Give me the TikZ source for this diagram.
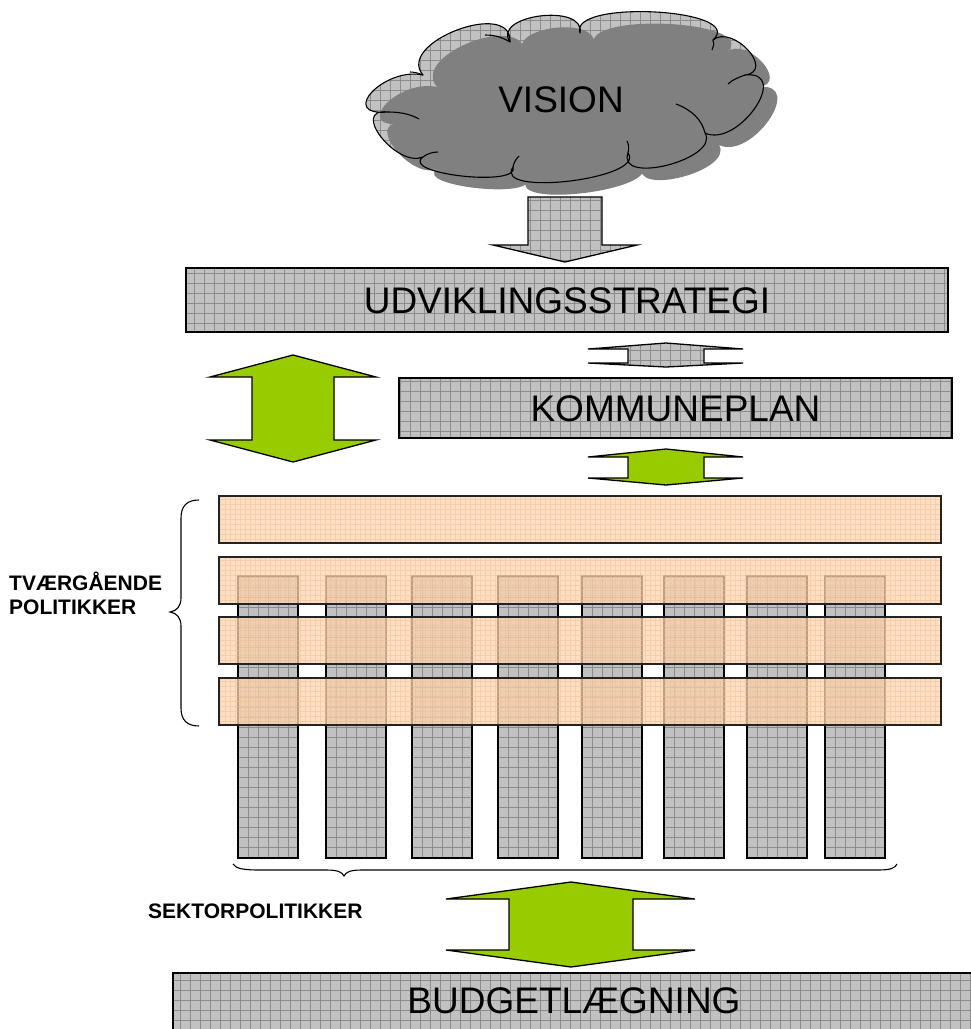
\documentclass[tikz,border=0pt]{standalone}
\usepackage{fontspec}
\setmainfont{Liberation Sans}
\newcommand\BigLabelFont{\fontsize{37}{44}\selectfont}
\newcommand\SmallLabelFont{\fontsize{21}{24}\selectfont\bfseries}
\definecolor{boxgray}{RGB}{193,193,193}
\definecolor{gridgray}{RGB}{140,140,140}
\definecolor{shadowgray}{RGB}{128,128,128}
\definecolor{limegreen}{RGB}{153,204,0}
\definecolor{peach}{RGB}{252,212,176}
\definecolor{peachline}{RGB}{244,186,140}
\definecolor{edgedark}{RGB}{35,35,35}
\tikzset{
  hatchgray/.style={fill=boxgray, path picture={\draw[gridgray, line width=0.6pt, step=10pt] (path picture bounding box.south west) grid (path picture bounding box.north east);}},
  graybox/.style={hatchgray, draw=black, line width=1.3pt, inner sep=0pt, outer sep=0pt, text height=26.5pt, text depth=0pt, font=\BigLabelFont},
  colbox/.style={hatchgray, draw=black, line width=1.3pt, inner sep=0pt, outer sep=0pt, minimum width=60pt, minimum height=282pt},
  peachbox/.style={fill=peach, fill opacity=0.75, draw=edgedark, draw opacity=1, line width=1.3pt, inner sep=0pt, outer sep=0pt, minimum width=722pt, minimum height=47pt,
    path picture={\draw[peachline, line width=0.35pt, step=5pt, draw opacity=0.5] (path picture bounding box.south west) grid (path picture bounding box.north east);}},
  greenarrow/.style={fill=limegreen, draw=black, line width=1.3pt, line join=miter},
  grayarrow/.style={hatchgray, draw=black, line width=1.3pt, line join=miter},
  bigtext/.style={font=\BigLabelFont, inner sep=0pt, text height=26.5pt, text depth=0pt},
  sidelabel/.style={font=\SmallLabelFont, inner sep=0pt, align=left},
  bracestroke/.style={draw=black, line width=1.1pt},
  cloudline/.style={draw=black, line width=1.1pt}
}
\newcommand\CloudShape[1]{%
  \path[#1] (388,112) .. controls (337.2,116.5) and (384.4,66.5) .. (423,75)
    .. controls (395.1,42.8) and (512.5,-1.8) .. (510,42)
    .. controls (491,14.9) and (585.6,2.7) .. (580,33)
    .. controls (568,-0.9) and (747.6,8.5) .. (713,40)
    .. controls (732.7,23.9) and (775.9,71.1) .. (745,75)
    .. controls (792,70.1) and (738,148.5) .. (705,133)
    .. controls (720.5,158.8) and (616.5,185.8) .. (628,153)
    .. controls (647.4,178.5) and (492.2,197.5) .. (513,167)
    .. controls (520.75,187.45) and (399.25,173.95) .. (423,157)
    .. controls (396.4,168.2) and (349.2,107.4) .. (388,112) -- cycle;}
\begin{document}
\begin{tikzpicture}[x=1pt,y=-1pt]
\useasboundingbox (0,0) rectangle (971,1029);
\begin{scope}
\clip (0,0) rectangle (971,1029);

% cloud
\CloudShape{hatchgray}
\begin{scope}[shift={(14,12)}]
\CloudShape{fill=shadowgray}
\end{scope}
\CloudShape{cloudline, line join=round}
\draw[cloudline] (388,112) .. controls (400,112) and (410,114) .. (419,119);
\draw[cloudline] (423,157) .. controls (427,154) and (432,152) .. (438,152);
\draw[cloudline] (513,167) .. controls (514,162) and (516,159) .. (519,156);
\draw[cloudline] (628,153) .. controls (629,148) and (629,145) .. (627,141);
\draw[cloudline] (705,133) .. controls (702,120) and (692,110) .. (676,104);
\draw[cloudline] (745,75) .. controls (740,77) and (733,79) .. (728,84);
\draw[cloudline] (713,40) .. controls (714,44) and (714,47) .. (712,50);
\draw[cloudline] (510,42) .. controls (502,37) and (494,35) .. (485,35);
\draw[cloudline] (423,75) .. controls (418,73) and (414,72) .. (410,72);
\node[bigtext] (vision) at (561,99) {VISION};

% arrow from cloud
\path[grayarrow] (528,197) -- (602,197) -- (602,245) -- (637,245) -- (565,262) -- (493,245) -- (528,245) -- cycle;

% strategy boxes
\node[graybox, minimum width=762pt, minimum height=64pt] (udv) at (567,300) {UDVIKLINGSSTRATEGI};
\node[graybox, minimum width=553pt, minimum height=60pt] (kom) at (675.5,408) {KOMMUNEPLAN};

% small arrows
\path[grayarrow] (666,343) -- (743,349) -- (704,349) -- (704,363) -- (743,363) -- (666,367) -- (588,363) -- (628,363) -- (628,349) -- (588,349) -- cycle;
\path[greenarrow] (666,449) -- (743,457) -- (704,457) -- (704,478) -- (743,478) -- (666,485) -- (588,478) -- (628,478) -- (628,457) -- (588,457) -- cycle;

% big left arrow
\path[greenarrow] (293,355) -- (376,377) -- (334,377) -- (334,440) -- (376,440) -- (293,462) -- (210,440) -- (252,440) -- (252,377) -- (210,377) -- cycle;

% sector columns
\foreach \xx [count=\i] in {238,326,412,498,582,664,747,825}
  \node[colbox, anchor=north west] (col\i) at (\xx,576) {};

% cross-cutting policies (translucent)
\foreach \yy [count=\i] in {496,557,617,678}
  \node[peachbox, anchor=north west] (tv\i) at (219,\yy) {};

% left brace
\draw[bracestroke] (199,500) .. controls (187,500) and (181,506) .. (181,518) -- (181,598)
  .. controls (181,606) and (177,611) .. (170,612) .. controls (177,613) and (181,618) .. (181,626)
  -- (181,708) .. controls (181,720) and (187,726) .. (199,726);
\node[sidelabel, anchor=west] (tvlabel) at (9,593) {TVÆRGÅENDE\\POLITIKKER};

% bottom brace
\draw[bracestroke] (233,864) .. controls (236,869) and (245,870) .. (260,870) -- (326,870)
  .. controls (338,870) and (342,872) .. (344,876) .. controls (346,872) and (350,870) .. (362,870)
  -- (878,870) .. controls (891,870) and (895,868) .. (897,864);
\node[sidelabel, anchor=west] (seklabel) at (148,911) {SEKTORPOLITIKKER};

% bottom arrow
\path[greenarrow] (571,882) -- (695,899) -- (633,899) -- (633,950) -- (695,950) -- (571,967) -- (446,950) -- (509,950) -- (509,899) -- (446,899) -- cycle;

% budget box
\path[hatchgray, draw=black, line width=1.3pt] (173,973) rectangle (990,1050);
\node[bigtext] (budget) at (574,1000) {BUDGETLÆGNING};
\end{scope}
\end{tikzpicture}
\end{document}
